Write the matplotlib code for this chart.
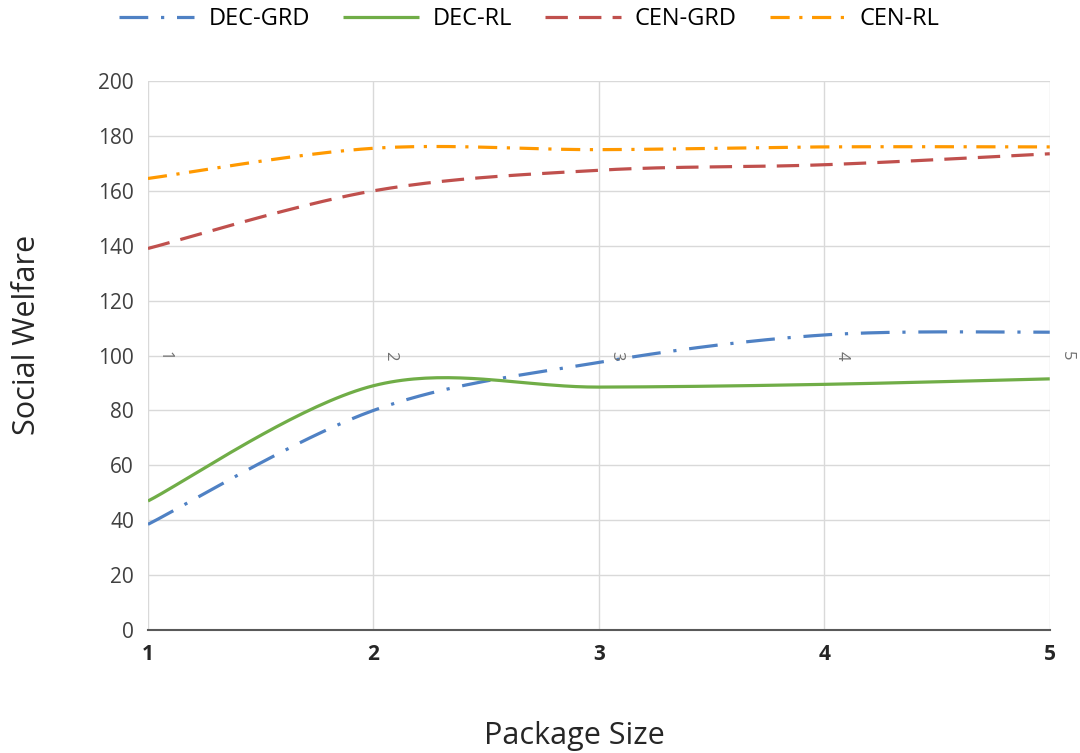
import numpy as np
import matplotlib.pyplot as plt

plt.rcParams['font.family'] = ['Open Sans', 'DejaVu Sans']

# package sizes and social welfare per method
package_size = [1, 2, 3, 4, 5]
dec_grd = [38.5, 80, 97.5, 107.5, 108.5]
dec_rl = [47, 89, 88.5, 89.5, 91.5]
cen_grd = [139, 160, 167.5, 169.5, 173.5]
cen_rl = [164.5, 175.5, 175, 176, 176]


def smooth(xs, ys, n=40):
    # excel-style smoothed line: cubic bezier through each point
    x = np.array(xs, float)
    y = np.array(ys, float)
    px = np.concatenate([[x[0]], x, [x[-1]]])
    py = np.concatenate([[y[0]], y, [y[-1]]])
    outx, outy = [], []
    t = np.linspace(0, 1, n)
    for i in range(1, len(px) - 2):
        p0 = np.array([px[i], py[i]])
        p3 = np.array([px[i + 1], py[i + 1]])
        c1 = p0 + (np.array([px[i + 1], py[i + 1]]) - np.array([px[i - 1], py[i - 1]])) / 6
        c2 = p3 - (np.array([px[i + 2], py[i + 2]]) - np.array([px[i], py[i]])) / 6
        b = ((1 - t) ** 3)[:, None] * p0 + (3 * (1 - t) ** 2 * t)[:, None] * c1 \
            + (3 * (1 - t) * t ** 2)[:, None] * c2 + (t ** 3)[:, None] * p3
        outx.extend(b[:, 0])
        outy.extend(b[:, 1])
    return outx, outy


fig = plt.figure(figsize=(10.8, 7.53), dpi=100)
ax = fig.add_axes([0.137, 0.1633, 0.835, 0.7291])

series = [
    ("DEC-GRD", dec_grd, "#4F81C4", (0, (9, 4, 1, 4))),
    ("DEC-RL", dec_rl, "#70AD47", "-"),
    ("CEN-GRD", cen_grd, "#C0504D", (0, (7, 3.5))),
    ("CEN-RL", cen_rl, "#FF9900", (0, (6, 3, 1, 3))),
]
for name, vals, col, ls in series:
    sx, sy = smooth(package_size, vals)
    ax.plot(sx, sy, color=col, lw=2.3, linestyle=ls, label=name,
            solid_capstyle='butt', dash_capstyle='butt')

ax.set_xlim(1, 5)
ax.set_ylim(0, 200)
ax.set_xticks(package_size)
ax.set_yticks(range(0, 201, 20))
ax.grid(True, color="#D9D9D9", lw=1)
ax.set_axisbelow(True)
for s in ["top", "right", "left"]:
    ax.spines[s].set_visible(False)
ax.spines["bottom"].set_color("#595959")
ax.spines["bottom"].set_linewidth(1.5)
ax.tick_params(length=0)
ax.tick_params(axis='y', labelsize=15, labelcolor="#404040", pad=10)
ax.tick_params(axis='x', labelsize=15, labelcolor="#262626", pad=10)
for lab in ax.get_xticklabels():
    lab.set_fontweight('bold')

# small rotated category labels inside the plot
for k in package_size:
    ax.text(k + 0.075, 100, str(k), rotation=-90, fontsize=12, color="#707070",
            ha='center', va='center', clip_on=False)

ax.set_ylabel("Social Welfare", fontsize=22, color="#262626")
ax.yaxis.set_label_coords(-0.117, 0.537)
fig.text(0.532, 1 - 744 / 753, "Package Size", fontsize=22, color="#262626",
         ha='center', va='baseline')

fig.legend(loc='center', bbox_to_anchor=(0.49, 0.975), ncol=4, frameon=False,
           fontsize=17, handlelength=3.2, columnspacing=1.4, handletextpad=0.6)

fig.savefig("out.png", dpi=100)
